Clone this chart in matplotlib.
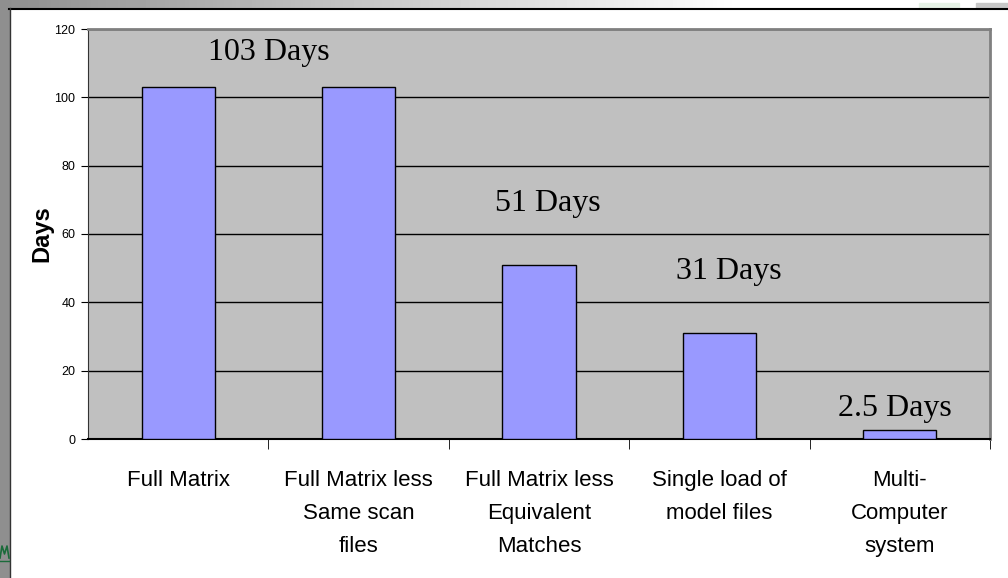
import numpy as np
import matplotlib.pyplot as plt
from matplotlib.patches import Rectangle

# data
categories = ['Full Matrix', 'Full Matrix less\nSame scan\nfiles',
              'Full Matrix less\nEquivalent\nMatches', 'Single load of\nmodel files',
              'Multi-\nComputer\nsystem']
days = [103, 103, 51, 31, 2.5]
callouts = ['103 Days', '51 Days', '31 Days', '2.5 Days']
callout_x = [0.5, 2.05, 3.05, 3.97]
callout_y = [113, 69, 49, 9]

plt.rcParams['font.family'] = ['Liberation Sans', 'DejaVu Sans']

fig = plt.figure(figsize=(10.08, 5.78), dpi=100)
fig.patch.set_facecolor('white')

# slide decoration: gradient strip on top, grey strip on left
bg = fig.add_axes([0, 0, 1, 1], zorder=-5)
bg.set_xlim(0, 1008)
bg.set_ylim(578, 0)
bg.axis('off')
grad = np.linspace(0, 1, 256)
grad = np.clip(grad / 0.74, 0, 1)
bg.imshow(np.tile(0.56 + 0.44 * grad, (2, 1)), cmap='gray', vmin=0, vmax=1,
          extent=[0, 1008, 8, 0], aspect='auto')
bg.add_patch(Rectangle((0, 0), 9, 578, color='#8f8f8f'))
bg.plot([9, 1008], [8.5, 8.5], color='black', lw=1.5)
bg.plot([9.5, 9.5], [8, 578], color='#333333', lw=1)
bg.add_patch(Rectangle((919, 3), 40, 5, color='#e6f2e6'))
bg.add_patch(Rectangle((976, 3), 32, 5, color='#c8c8c8'))
# bit of the slide logo peeking in at the left edge
bg.plot([0, 2, 4.5, 7, 9], [558, 546, 554, 546, 558], color='#1a6b3a', lw=1.2)
bg.plot([0, 9], [561, 561], color='#1a6b3a', lw=1)

ax = fig.add_axes([88 / 1008, 1 - 439 / 578, (990 - 88) / 1008, (439 - 29) / 578])
ax.set_facecolor('#c0c0c0')
x = np.arange(len(days))
ax.bar(x, days, width=0.405, color='#9999ff', edgecolor='black', linewidth=1, zorder=3)

ax.set_xlim(-0.5, 4.5)
ax.set_ylim(0, 120)
ax.set_yticks(range(0, 121, 20))
ax.set_yticklabels([str(v) for v in range(0, 121, 20)], fontsize=9)
ax.yaxis.grid(True, color='black', lw=1)
ax.set_axisbelow(True)

ax.set_xticks(x)
ax.set_xticklabels(categories, fontsize=16, linespacing=1.75, va='top')
ax.set_xticks(np.arange(0.5, 4.6, 1), minor=True)
ax.tick_params(axis='x', which='major', length=0, pad=22)
ax.tick_params(axis='x', which='minor', length=7, direction='out', color='black')
ax.tick_params(axis='y', length=5, direction='out', color='black', pad=4)

for s in ['top', 'right']:
    ax.spines[s].set_color('#808080')
    ax.spines[s].set_linewidth(2)
ax.spines['left'].set_color('#333333')
ax.spines['bottom'].set_color('black')
ax.spines['bottom'].set_linewidth(1.5)

ax.set_ylabel('Days', fontsize=17, fontweight='bold', labelpad=1)

for lbl, cx, cy in zip(callouts, callout_x, callout_y):
    ax.text(cx, cy, lbl, fontsize=23, family='Liberation Serif', ha='center', va='center', zorder=4)

fig.savefig('out.png', dpi=100)
